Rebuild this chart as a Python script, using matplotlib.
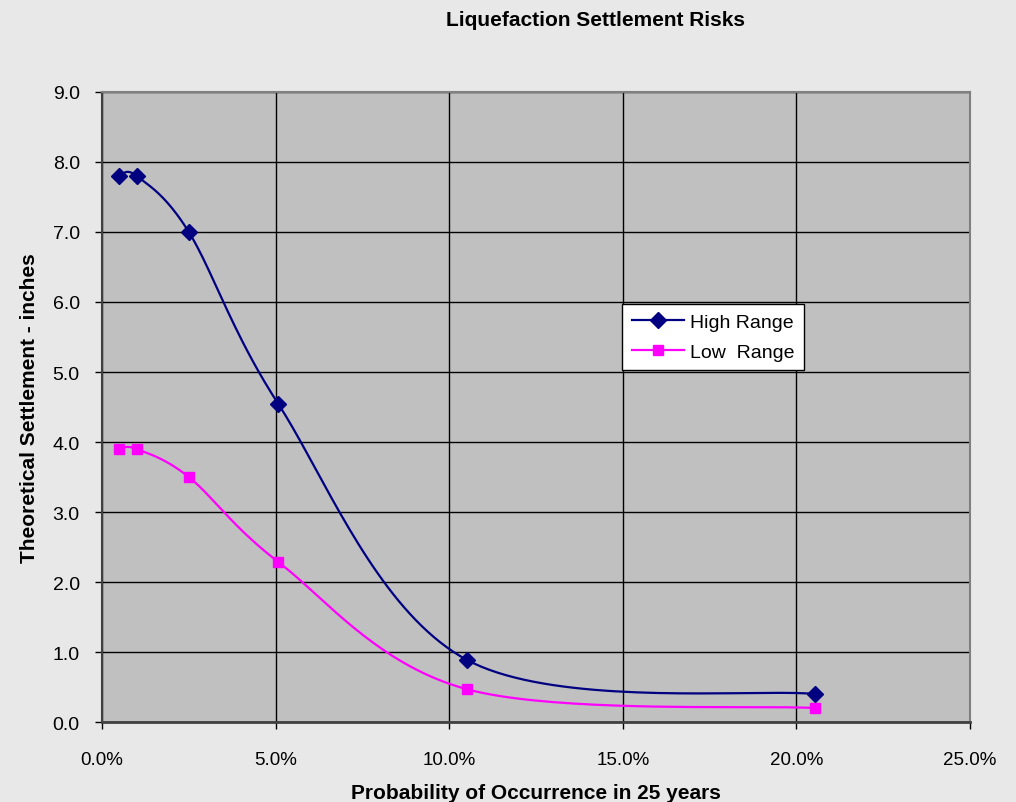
import numpy as np
import matplotlib
matplotlib.use("Agg")
import matplotlib.pyplot as plt
from matplotlib.lines import Line2D

plt.rcParams['font.family'] = ['Liberation Sans', 'DejaVu Sans']

# Data (probability in %, settlement in inches)
prob = [0.5, 1.0, 2.5, 5.07, 10.5, 20.55]
high_range = [7.8, 7.8, 7.0, 4.55, 0.89, 0.40]
low_range = [3.9, 3.9, 3.5, 2.29, 0.47, 0.20]
x_ticks = [0, 5, 10, 15, 20, 25]
y_ticks = [0, 1, 2, 3, 4, 5, 6, 7, 8, 9]


def smooth(xs, ys, n=40):
    p = np.column_stack([xs, ys]).astype(float)
    pts = []
    for i in range(len(p) - 1):
        p0 = p[i - 1] if i > 0 else p[i]
        p1, p2 = p[i], p[i + 1]
        p3 = p[i + 2] if i + 2 < len(p) else p[i + 1]
        c1 = p1 + (p2 - p0) / 6.0
        c2 = p2 - (p3 - p1) / 6.0
        t = np.linspace(0, 1, n)[:, None]
        seg = ((1 - t) ** 3) * p1 + 3 * ((1 - t) ** 2) * t * c1 + 3 * (1 - t) * t ** 2 * c2 + t ** 3 * p2
        pts.append(seg if i == 0 else seg[1:])
    a = np.vstack(pts)
    return a[:, 0], a[:, 1]


fig = plt.figure(figsize=(10.16, 8.03), dpi=100, facecolor='#e8e8e8')
ax = fig.add_axes([0.1004, 0.0996, 0.8543, 0.7846])
ax.set_facecolor('#c0c0c0')

navy = '#000080'
magenta = '#ff00ff'

hx, hy = smooth(prob, high_range)
lx, ly = smooth(prob, low_range)
ax.plot(hx, hy, color=navy, lw=1.6, zorder=3)
ax.plot(prob, high_range, ls='none', marker='D', ms=8, color=navy, zorder=4)
ax.plot(lx, ly, color=magenta, lw=1.6, zorder=3)
ax.plot(prob, low_range, ls='none', marker='s', ms=7.8, color=magenta, zorder=4)

ax.set_xlim(0, 25)
ax.set_ylim(0, 9)
ax.set_xticks(x_ticks)
ax.set_xticklabels([f"{v:.1f}%" for v in x_ticks], fontsize=13.5)
ax.set_yticks(y_ticks)
ax.set_yticklabels([f"{v:.1f}" for v in y_ticks], fontsize=14)
ax.grid(True, color='black', lw=1.0, zorder=1)
ax.set_axisbelow(True)
ax.tick_params(axis='x', direction='out', length=5, width=1, pad=16, color='black')
ax.tick_params(axis='y', direction='out', length=5, width=1, pad=11, color='black')

for s in ['top', 'right']:
    ax.spines[s].set_color('#808080')
    ax.spines[s].set_linewidth(1.5)
ax.spines['bottom'].set_color('#404040')
ax.spines['bottom'].set_linewidth(2)
ax.spines['left'].set_color('#404040')
ax.spines['left'].set_linewidth(1.5)

ax.set_xlabel('Probability of Occurrence in 25 years', fontsize=15, fontweight='bold', labelpad=11)
ax.set_ylabel('Theoretical Settlement - inches', fontsize=15, fontweight='bold', labelpad=10)

fig.text(0.586, 0.975, 'Liquefaction Settlement Risks', ha='center', va='center',
         fontsize=15, fontweight='bold')

handles = [Line2D([], [], color=navy, marker='D', ms=8, lw=1.6),
           Line2D([], [], color=magenta, marker='s', ms=7.8, lw=1.6)]
leg = ax.legend(handles, ['High Range', 'Low  Range'], loc='center',
                bbox_to_anchor=(0.704, 0.611), fontsize=14, frameon=True,
                fancybox=False, framealpha=1, edgecolor='black',
                handlelength=2.7, borderpad=0.5, labelspacing=0.6, handletextpad=0.3,
                borderaxespad=0)
leg.get_frame().set_linewidth(1.0)

fig.savefig('out.png', dpi=100, facecolor=fig.get_facecolor())
